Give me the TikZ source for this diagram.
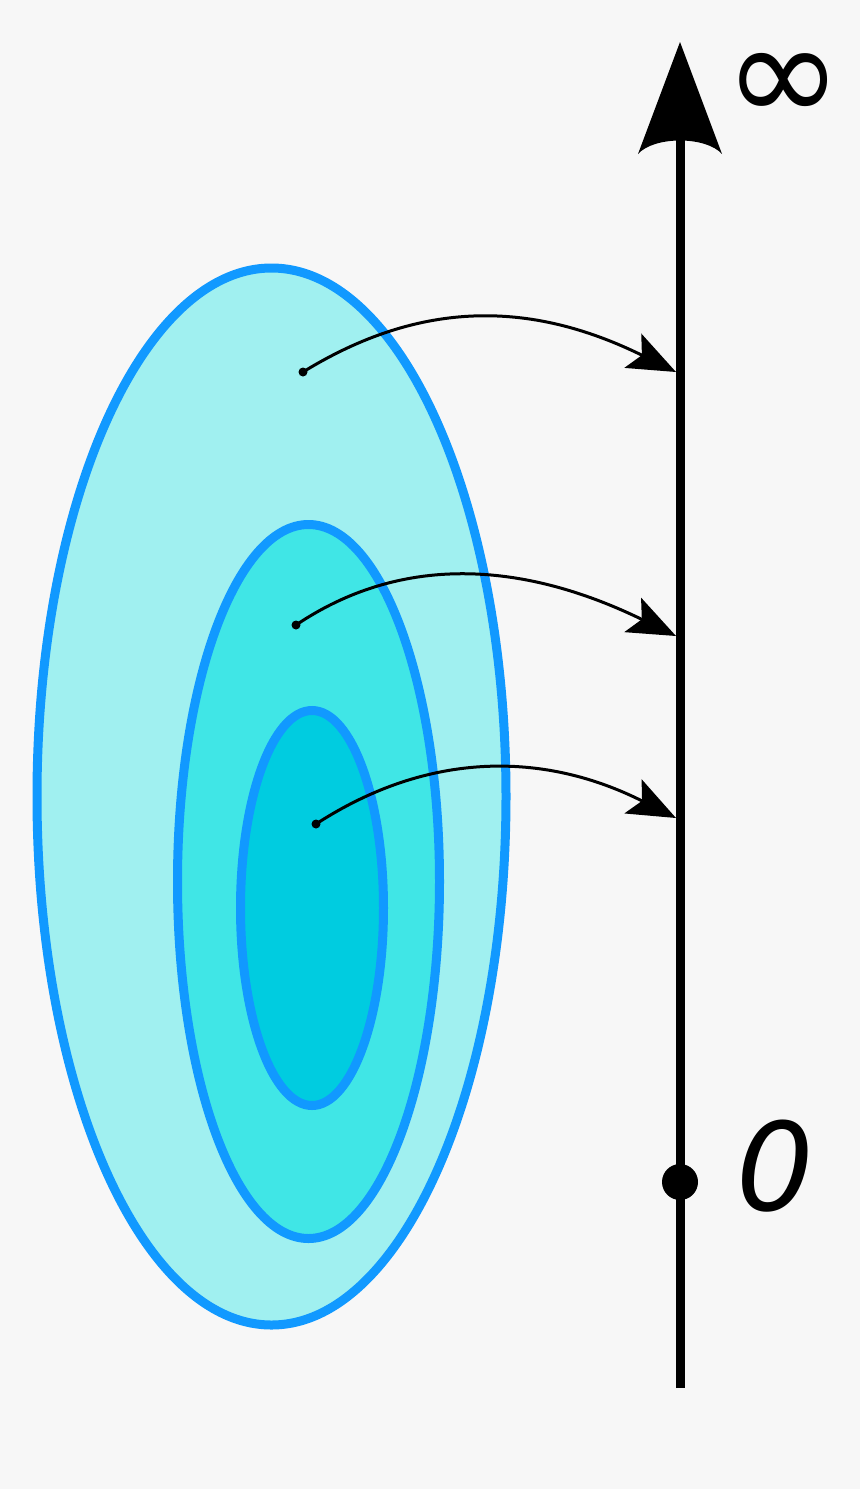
\documentclass[tikz,border=0pt]{standalone}
\usepackage{fontspec}
\setmainfont{DejaVu Sans}
\usetikzlibrary{arrows.meta}
\definecolor{bg}{HTML}{F7F7F7}
\definecolor{rim}{HTML}{1199FF}
\definecolor{fillA}{HTML}{A0F0F0}
\definecolor{fillB}{HTML}{40E6E6}
\definecolor{fillC}{HTML}{00CCE0}
\tikzset{
  region/.style={draw=rim, line width=9pt},
  mapline/.style={line width=3pt, -{Stealth[length=48pt, width=38pt, inset=10pt]}},
  srcdot/.style={circle, fill=black, inner sep=0pt, minimum size=9pt},
  lbl/.style={inner sep=0pt, font=\fontsize{122}{130}\selectfont}
}
\begin{document}
\begin{tikzpicture}[x=1pt, y=-1pt]
\fill[bg] (0,0) rectangle (860,1489);
\useasboundingbox (0,0) rectangle (860,1489);
% regions
\fill[fillA] (271.5,796.5) ellipse [x radius=234.5, y radius=528.5];
\draw[region] (271.5,796.5) ellipse [x radius=234.5, y radius=528.5];
\fill[fillB] (308.5,881.5) ellipse [x radius=131, y radius=357];
\draw[region] (308.5,881.5) ellipse [x radius=131, y radius=357];
\fill[fillC] (312,908) ellipse [x radius=71.5, y radius=197.5];
\draw[region] (312,908) ellipse [x radius=71.5, y radius=197.5];
% axis
\coordinate (axbot) at (680,1388);
\coordinate (axhead) at (680,120);
\coordinate (axtop) at (680,42);
\draw[line width=9pt] (axbot) -- (axhead);
\fill (axtop) -- (722,154) .. controls (706,136) and (654,136) .. (638,154) -- cycle;
\node[circle, fill=black, inner sep=0pt, minimum size=36pt] (zero) at (680,1182) {};
\node[inner sep=0pt, font=\fontsize{142}{150}\selectfont] (inf) at (784,88) {∞};
\node[lbl] (zlbl) at (775,1166) {\itshape 0};
% map points
\node[srcdot] (p1) at (303,372) {};
\node[srcdot] (p2) at (296,625) {};
\node[srcdot] (p3) at (316,824) {};
\coordinate (q1) at (676,372);
\coordinate (q2) at (676,636);
\coordinate (q3) at (676,818);
\draw[mapline] (p1.center) .. controls (420,300) and (530,300) .. (q1);
\draw[mapline] (p2.center) .. controls (400,555) and (520,560) .. (q2);
\draw[mapline] (p3.center) .. controls (430,750) and (545,752) .. (q3);
\end{tikzpicture}
\end{document}
